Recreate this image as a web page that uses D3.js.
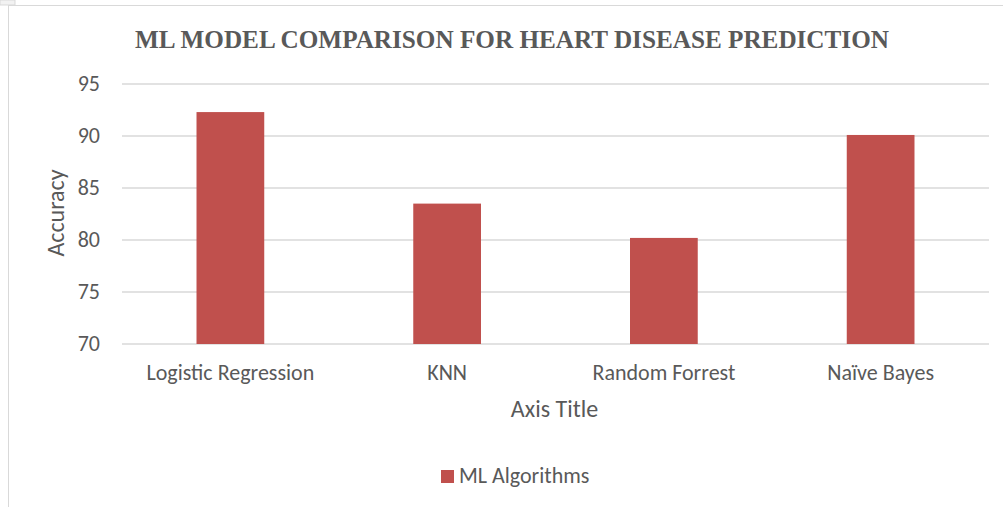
<!DOCTYPE html>
<html>
<head>
<meta charset="utf-8">
<script src="https://cdn.jsdelivr.net/npm/d3@7"></script>
<style>
  body { margin: 0; background: #fff; }
  svg { display: block; }
</style>
</head>
<body>
<div id="chart"></div>
<script>
const categories = ['Logistic Regression', 'KNN', 'Random Forrest', 'Naïve Bayes'];
const accuracy = [92.3, 83.5, 80.2, 90.1];
const yTicks = [70, 75, 80, 85, 90, 95];
const seriesName = 'ML Algorithms';

const W = 1003, H = 507;
const margin = { top: 84, right: 14, bottom: 163, left: 122 };
const width = W - margin.left - margin.right;
const height = H - margin.top - margin.bottom;
const labelFont = 'Carlito, Calibri, Lato, sans-serif';

const svg = d3.select('#chart')
  .append('svg')
  .attr('width', W)
  .attr('height', H);

// chart frame (only left/top visible in the crop)
svg.append('rect')
  .attr('x', 8.5).attr('y', 5.5)
  .attr('width', W + 20).attr('height', H + 20)
  .attr('fill', 'none').attr('stroke', '#d9d9d9').attr('stroke-width', 1);
svg.append('rect')
  .attr('x', 0).attr('y', 0).attr('width', 15).attr('height', 5)
  .attr('fill', '#f2f2f2').attr('stroke', '#d9d9d9');

const g = svg.append('g')
  .attr('transform', `translate(${margin.left},${margin.top})`);

const x = d3.scaleBand()
  .domain(categories)
  .range([0, width])
  .paddingInner(0.6875)
  .paddingOuter(0.34375);

const y = d3.scaleLinear()
  .domain([70, 95])
  .range([height, 0]);

// gridlines
g.append('g')
  .selectAll('line')
  .data(yTicks)
  .enter().append('line')
  .attr('x1', 0).attr('x2', width)
  .attr('y1', d => y(d)).attr('y2', d => y(d))
  .attr('stroke', '#d9d9d9')
  .attr('stroke-width', 1.4);

// bars
g.append('g')
  .selectAll('rect')
  .data(accuracy)
  .enter().append('rect')
  .attr('x', (d, i) => x(categories[i]))
  .attr('y', d => y(d))
  .attr('width', x.bandwidth())
  .attr('height', d => height - y(d))
  .attr('fill', '#c0504d');

// y axis
const yAxis = g.append('g')
  .call(d3.axisLeft(y).tickValues(yTicks).tickSize(0).tickPadding(22));
yAxis.select('.domain').remove();
yAxis.selectAll('text')
  .attr('fill', '#595959')
  .attr('dy', '0.3em')
  .style('font-family', labelFont)
  .style('font-size', '22px');

// x axis
const xAxis = g.append('g')
  .attr('transform', `translate(0,${height})`)
  .call(d3.axisBottom(x).tickSize(0).tickPadding(20));
xAxis.select('.domain').remove();
xAxis.selectAll('text')
  .attr('y', 36)
  .attr('dy', 0)
  .attr('fill', '#595959')
  .style('font-family', labelFont)
  .style('font-size', '22px');

// title
svg.append('text')
  .attr('x', 512).attr('y', 48)
  .attr('text-anchor', 'middle')
  .attr('fill', '#595959')
  .style('font-family', '"Liberation Serif", "Times New Roman", serif')
  .style('font-weight', 'bold')
  .style('font-size', '25.2px')
  .text('ML MODEL COMPARISON FOR HEART DISEASE PREDICTION');

// axis titles
svg.append('text')
  .attr('x', margin.left + width / 2 - 1).attr('y', 417)
  .attr('text-anchor', 'middle')
  .attr('fill', '#595959')
  .style('font-family', labelFont)
  .style('font-size', '24px')
  .text('Axis Title');

svg.append('text')
  .attr('transform', `translate(64,${margin.top + height / 2 - 1}) rotate(-90)`)
  .attr('text-anchor', 'middle')
  .attr('fill', '#595959')
  .style('font-family', labelFont)
  .style('font-size', '24px')
  .text('Accuracy');

// legend
const legend = svg.append('g').attr('transform', 'translate(441,470)');
legend.append('rect')
  .attr('width', 13).attr('height', 13)
  .attr('fill', '#c0504d');
legend.append('text')
  .attr('x', 18).attr('y', 13)
  .attr('fill', '#595959')
  .style('font-family', labelFont)
  .style('font-size', '22px')
  .text(seriesName);
</script>
</body>
</html>
